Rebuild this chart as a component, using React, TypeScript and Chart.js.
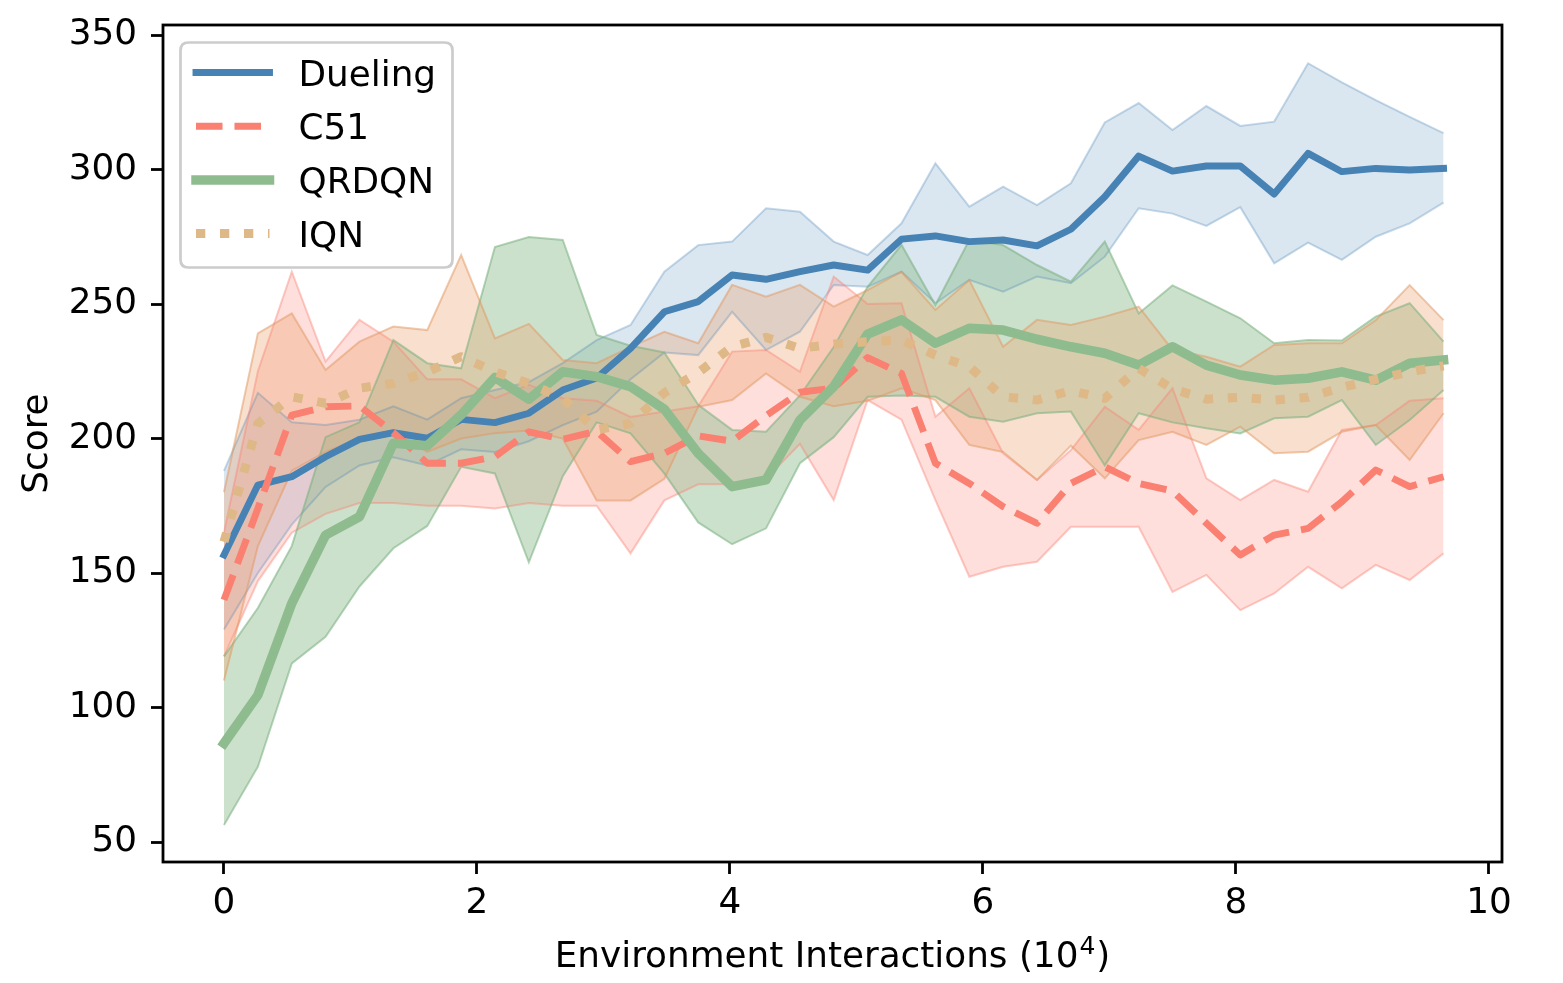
import React, { useEffect, useRef } from 'react';
import { Chart, registerables } from 'chart.js';

Chart.register(...registerables);

// ---------------- data ----------------
const X_STEPS = [
  0, 0.268, 0.536, 0.803, 1.071, 1.339, 1.607, 1.875, 2.142, 2.41, 2.678, 2.946, 3.214,
  3.481, 3.749, 4.017, 4.285, 4.553, 4.82, 5.088, 5.356, 5.624, 5.892, 6.159, 6.427,
  6.695, 6.963, 7.231, 7.498, 7.766, 8.034, 8.302, 8.57, 8.837, 9.105, 9.373, 9.641,
];

const SERIES_NAMES = ['Dueling', 'C51', 'QRDQN', 'IQN'];

const DUELING_MEAN = [
  156.7, 182.7, 185.8, 193.2, 199.7, 202.2, 200.1, 207.1, 205.9, 209.4, 218, 222.5, 233.5,
  247.1, 250.9, 260.8, 259.2, 262, 264.5, 262.6, 274.1, 275.3, 273.2, 273.8, 271.6, 277.8,
  289.9, 305, 299.4, 301.3, 301.3, 290.9, 306, 299.2, 300.4, 299.8, 300.4,
];
const DUELING_UPPER = [
  188, 217, 206, 205, 207, 212, 207, 215, 218, 221, 228, 236.6, 242.2, 262, 271.9, 273.2,
  285.6, 284.3, 273.2, 268.2, 280, 302.3, 286.2, 293.6, 286.8, 294.9, 317.5, 324.7, 314.7,
  323.6, 316.2, 317.8, 339.5, 332.4, 325.8, 319.6, 313.5,
];
const DUELING_LOWER = [
  129, 150, 168, 182, 190, 193, 190, 196, 195, 199, 205, 210, 222, 232, 231, 247.1, 232.9,
  239.7, 257.1, 256.4, 262, 250.3, 259, 254.6, 260.2, 257.7, 267.6, 285.6, 283.6, 279, 286,
  265.1, 272.8, 266.4, 275, 280, 287.7,
];

const C51_MEAN = [
  140, 174, 208.7, 211.8, 212.1, 202.2, 190.8, 190.8, 193.2, 202.5, 199.7, 202.7, 191.4,
  194.5, 201, 199, 208.5, 217.2, 218.7, 230.1, 224.2, 190.8, 183.3, 174.7, 168.5, 183.3,
  189.5, 183.3, 180.5, 168.5, 156.7, 164.1, 166.6, 176.5, 188.3, 182.1, 185.8,
];
const C51_UPPER = [
  165, 225, 262, 228.6, 244.1, 236, 222, 222, 215, 220, 215, 214, 208, 210, 212, 232.3,
  232.9, 224.8, 260.2, 250, 250.3, 208.1, 218.7, 194.5, 184.6, 195.7, 211.8, 203.2, 218.7,
  185.2, 177.1, 184.6, 180.2, 203.2, 205, 214, 215,
];
const C51_LOWER = [
  119, 147, 165, 172, 176, 176, 175, 175, 174, 176, 175, 175, 157.3, 177, 183, 183, 185,
  198, 177.1, 214.3, 207, 177.1, 148.6, 152.3, 154.2, 167.2, 167.2, 167.2, 143, 149.3,
  136.2, 142.4, 152.3, 144.3, 153, 147.4, 157.3,
];

const QRDQN_MEAN = [
  86.7, 104.6, 138.7, 164.1, 170.9, 198.2, 197.3, 208.8, 222.7, 214.6, 224.8, 223, 219.3,
  210.9, 194.5, 182.1, 184.6, 206.8, 219.3, 238.8, 244.1, 235.4, 241, 240.3, 236.9, 234.1,
  231.7, 227.3, 234.1, 227.3, 223.6, 221.7, 222.4, 224.8, 221.7, 228, 229.2,
];
const QRDQN_UPPER = [
  119, 137, 160, 200.5, 206, 236.6, 228, 226.1, 271.2, 274.9, 273.8, 238.5, 234.5, 232,
  212.5, 203.2, 202.5, 216, 234, 256.4, 272, 249.6, 273.8, 271.9, 264.5, 258.3, 273.2,
  246.5, 256.9, 250.9, 244.7, 235.4, 236.6, 236.4, 245.3, 250.3, 236,
];
const QRDQN_LOWER = [
  56.3, 78, 116.4, 126.3, 145, 159.2, 167.5, 189.5, 187, 154, 186, 206, 201.9, 187, 168.8,
  160.7, 166.6, 190.8, 200.5, 215.5, 216, 215.5, 208.1, 206.2, 209.4, 210, 190, 209.4, 206,
  203.8, 201.9, 207.5, 208.1, 214.3, 197.6, 206.9, 218,
];

const IQN_MEAN = [
  161.6, 205.6, 215.5, 213.1, 218.7, 220.5, 224.8, 230.4, 224.8, 220.5, 214.9, 203.2, 205.6,
  217, 224.5, 234.1, 237.6, 233.5, 235.1, 236, 236.6, 231, 226.7, 215.5, 214.3, 217.8, 214.9,
  226.1, 218.5, 214.6, 215.3, 214.3, 215.3, 219, 222, 224.8, 227,
];
const IQN_UPPER = [
  180, 239.1, 246.5, 225.5, 236, 241.6, 240.3, 268.2, 237.2, 242.6, 229.2, 228, 234, 239.7,
  235.4, 257.1, 252.7, 257.1, 249, 255.2, 262, 247.8, 258.9, 234.1, 244.1, 242.2, 245.3, 249,
  233, 230.4, 226.7, 234.8, 235.4, 235.4, 244, 257, 244,
];
const IQN_LOWER = [
  110, 160, 188, 195, 200, 203, 195, 200, 202, 203, 200, 177, 177, 185, 211.8, 214.3, 224.2,
  215.5, 212, 214, 218.7, 214.3, 197.6, 195, 184.6, 197.3, 185.2, 199.4, 202.5, 197.6, 204.4,
  194.5, 195.1, 202.5, 205, 192, 209.4,
];

const X_TICKS = [0, 2, 4, 6, 8, 10];
const Y_TICKS = [50, 100, 150, 200, 250, 300, 350];
const X_TITLE_MAIN = 'Environment Interactions (10';
const X_TITLE_SUP = '4';
const X_TITLE_END = ')';
const Y_TITLE = 'Score';

// ---------------- styles ----------------
const FONT_FAMILY = '"DejaVu Sans", "Liberation Sans", sans-serif';
const FONT_SIZE = 35.8;

const STYLES = [
  { line: '#4682B4', width: 6.9, dash: [] as number[], cap: 'square', fill: 'rgba(70,130,180,0.2)', edge: 'rgba(70,130,180,0.3)', lineOrder: 3, bandOrder: 7 },
  { line: '#FA8072', width: 6.9, dash: [26.5, 12], cap: 'butt', fill: 'rgba(250,128,114,0.25)', edge: 'rgba(250,128,114,0.42)', lineOrder: 2, bandOrder: 6 },
  { line: '#8FBC8F', width: 9.5, dash: [] as number[], cap: 'square', fill: 'rgba(143,188,143,0.45)', edge: 'rgba(120,175,125,0.55)', lineOrder: 1, bandOrder: 5 },
  { line: '#DEB887', width: 9, dash: [9.3, 14.7], cap: 'butt', fill: 'rgba(238,160,105,0.33)', edge: 'rgba(225,150,95,0.5)', lineOrder: 0, bandOrder: 4 },
];

const SERIES = [
  { mean: DUELING_MEAN, hi: DUELING_UPPER, lo: DUELING_LOWER },
  { mean: C51_MEAN, hi: C51_UPPER, lo: C51_LOWER },
  { mean: QRDQN_MEAN, hi: QRDQN_UPPER, lo: QRDQN_LOWER },
  { mean: IQN_MEAN, hi: IQN_UPPER, lo: IQN_LOWER },
];

const pts = (arr: number[]) => X_STEPS.map((x, i) => ({ x, y: arr[i] }));

const framePlugin = {
  id: 'frame',
  afterDatasetsDraw(chart: any) {
    const { ctx, chartArea } = chart;
    ctx.save();
    ctx.strokeStyle = '#000';
    ctx.lineWidth = 2.8;
    ctx.strokeRect(chartArea.left, chartArea.top, chartArea.right - chartArea.left, chartArea.bottom - chartArea.top);
    ctx.restore();
  },
};

const decorPlugin = {
  id: 'decor',
  afterDraw(chart: any) {
    const { ctx, chartArea } = chart;
    ctx.save();
    // x axis title with superscript
    ctx.fillStyle = '#000';
    ctx.textBaseline = 'alphabetic';
    ctx.textAlign = 'left';
    const mainFont = `${FONT_SIZE}px ${FONT_FAMILY}`;
    const supFont = `${FONT_SIZE * 0.7}px ${FONT_FAMILY}`;
    ctx.font = mainFont;
    const wMain = ctx.measureText(X_TITLE_MAIN).width;
    const wEnd = ctx.measureText(X_TITLE_END).width;
    ctx.font = supFont;
    const wSup = ctx.measureText(X_TITLE_SUP).width;
    const total = wMain + wSup + wEnd + 2;
    const cx = (chartArea.left + chartArea.right) / 2;
    const base = chartArea.bottom + 105;
    let tx = cx - total / 2;
    ctx.font = mainFont;
    ctx.fillText(X_TITLE_MAIN, tx, base);
    tx += wMain + 1;
    ctx.font = supFont;
    ctx.fillText(X_TITLE_SUP, tx, base - 13);
    tx += wSup + 1;
    ctx.font = mainFont;
    ctx.fillText(X_TITLE_END, tx, base);

    // y axis title
    ctx.textAlign = 'center';
    ctx.save();
    ctx.translate(chartArea.left - 116, (chartArea.top + chartArea.bottom) / 2);
    ctx.rotate(-Math.PI / 2);
    ctx.fillText(Y_TITLE, 0, 0);
    ctx.restore();

    // legend
    const x0 = chartArea.left + 17.5;
    const y0 = chartArea.top + 17.5;
    const w = 272;
    const h = 225;
    const r = 8;
    ctx.beginPath();
    ctx.moveTo(x0 + r, y0);
    ctx.lineTo(x0 + w - r, y0);
    ctx.quadraticCurveTo(x0 + w, y0, x0 + w, y0 + r);
    ctx.lineTo(x0 + w, y0 + h - r);
    ctx.quadraticCurveTo(x0 + w, y0 + h, x0 + w - r, y0 + h);
    ctx.lineTo(x0 + r, y0 + h);
    ctx.quadraticCurveTo(x0, y0 + h, x0, y0 + h - r);
    ctx.lineTo(x0, y0 + r);
    ctx.quadraticCurveTo(x0, y0, x0 + r, y0);
    ctx.closePath();
    ctx.fillStyle = 'rgba(255,255,255,0.8)';
    ctx.fill();
    ctx.strokeStyle = '#cccccc';
    ctx.lineWidth = 2.7;
    ctx.stroke();

    ctx.font = mainFont;
    SERIES_NAMES.forEach((name, k) => {
      const st = STYLES[k];
      const cy = y0 + 30 + k * 53.7;
      ctx.beginPath();
      ctx.setLineDash(st.dash);
      ctx.lineCap = st.cap;
      ctx.lineWidth = st.width;
      ctx.strokeStyle = st.line;
      ctx.moveTo(x0 + 15.5, cy);
      ctx.lineTo(x0 + 89, cy);
      ctx.stroke();
      ctx.setLineDash([]);
      ctx.fillStyle = '#000';
      ctx.textAlign = 'left';
      ctx.textBaseline = 'alphabetic';
      ctx.fillText(name, x0 + 118, cy + 13);
    });
    ctx.restore();
  },
};

export default function App() {
  const canvasRef = useRef<HTMLCanvasElement | null>(null);

  useEffect(() => {
    if (!canvasRef.current) return;
    const datasets: any[] = [];
    SERIES.forEach((s, k) => {
      const st = STYLES[k];
      datasets.push({
        label: SERIES_NAMES[k] + ' upper',
        data: pts(s.hi),
        borderColor: st.edge,
        borderWidth: 2,
        backgroundColor: st.fill,
        pointRadius: 0,
        fill: '+1',
        order: st.bandOrder,
      });
      datasets.push({
        label: SERIES_NAMES[k] + ' lower',
        data: pts(s.lo),
        borderColor: st.edge,
        borderWidth: 2,
        pointRadius: 0,
        fill: false,
        order: st.bandOrder,
      });
      datasets.push({
        label: SERIES_NAMES[k],
        data: pts(s.mean),
        borderColor: st.line,
        borderWidth: st.width,
        borderDash: st.dash,
        borderCapStyle: st.cap,
        borderJoinStyle: 'round',
        pointRadius: 0,
        fill: false,
        order: st.lineOrder,
      });
    });

    const tickFont = { family: FONT_FAMILY, size: FONT_SIZE };
    const chart = new Chart(canvasRef.current, {
      type: 'line',
      data: { datasets },
      options: {
        animation: false,
        responsive: false,
        devicePixelRatio: 1,
        events: [],
        layout: { padding: { left: 0, top: 25, right: 61, bottom: 0 } },
        plugins: {
          legend: { display: false },
          tooltip: { enabled: false },
          filler: { drawTime: 'beforeDatasetsDraw' },
        } as any,
        scales: {
          x: {
            type: 'linear',
            min: -0.482,
            max: 10.103,
            afterBuildTicks: (axis: any) => {
              axis.ticks = X_TICKS.map((v) => ({ value: v }));
            },
            afterFit: (scale: any) => {
              scale.height = 121;
              scale.paddingLeft = 0;
              scale.paddingRight = 0;
            },
            ticks: { font: tickFont, color: '#000', padding: 8, maxRotation: 0, autoSkip: false },
            grid: { drawOnChartArea: false, drawTicks: true, tickLength: 12, tickWidth: 2.8, tickColor: '#000' },
            border: { display: false },
          },
          y: {
            type: 'linear',
            min: 42.57,
            max: 353.72,
            afterBuildTicks: (axis: any) => {
              axis.ticks = Y_TICKS.map((v) => ({ value: v }));
            },
            afterFit: (scale: any) => {
              scale.width = 163;
              scale.paddingTop = 0;
              scale.paddingBottom = 0;
            },
            ticks: { font: tickFont, color: '#000', padding: 14, autoSkip: false },
            grid: { drawOnChartArea: false, drawTicks: true, tickLength: 12, tickWidth: 2.8, tickColor: '#000' },
            border: { display: false },
          },
        },
      } as any,
      plugins: [framePlugin, decorPlugin],
    });
    return () => chart.destroy();
  }, []);

  return (
    <div style={{ position: 'fixed', left: 0, top: 0, width: 1563, height: 983, background: '#fff' }}>
      <canvas ref={canvasRef} width={1563} height={983} style={{ width: 1563, height: 983, display: 'block' }} />
    </div>
  );
}
